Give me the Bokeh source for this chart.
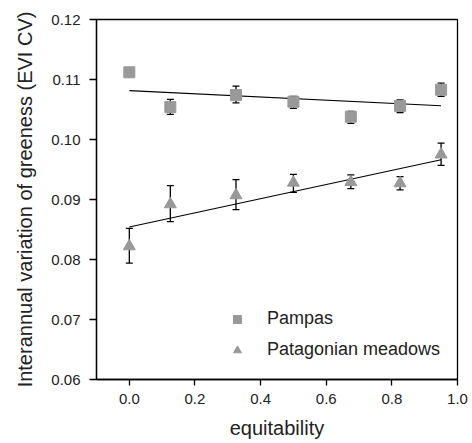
import numpy as np
from bokeh.plotting import figure
from bokeh.models import (Range1d, FixedTicker, PrintfTickFormatter, ColumnDataSource,
                          Whisker, TeeHead, Legend, LegendItem)
from bokeh.embed import file_html
from bokeh.resources import INLINE

# ---- data ----
equitability = [0.0, 0.125, 0.325, 0.5, 0.675, 0.825, 0.95]
pampas = [0.1112, 0.1054, 0.1074, 0.1063, 0.1038, 0.1056, 0.1083]
pampas_upper = [0.1112, 0.1067, 0.1089, 0.1072, 0.1047, 0.1066, 0.1094]
pampas_lower = [0.1112, 0.1042, 0.1061, 0.1052, 0.1027, 0.1045, 0.1072]
patagonia = [0.0822, 0.0892, 0.0907, 0.0928, 0.0929, 0.0927, 0.0975]
patagonia_upper = [0.0852, 0.0923, 0.0933, 0.0942, 0.0941, 0.0938, 0.0994]
patagonia_lower = [0.0794, 0.0863, 0.0883, 0.0912, 0.0918, 0.0916, 0.0957]
x_ticks = [0.0, 0.2, 0.4, 0.6, 0.8, 1.0]
y_ticks = [0.06, 0.07, 0.08, 0.09, 0.10, 0.11, 0.12]
series_names = ["Pampas", "Patagonian meadows"]

FONT = "Liberation Sans"
GRAY = "#999999"
TXT = "#222222"

p = figure(width=472, height=443, output_backend="svg", toolbar_location=None,
           x_range=Range1d(-0.1, 1.0), y_range=Range1d(0.06, 0.12),
           min_border_left=96, min_border_right=15, min_border_top=19, min_border_bottom=64)
p.background_fill_color = "white"
p.border_fill_color = "white"
p.outline_line_color = "black"
p.outline_line_width = 1.3
p.xgrid.visible = False
p.ygrid.visible = False

for ax, ticks, fmt in ((p.xaxis[0], x_ticks, "%.1f"), (p.yaxis[0], y_ticks, "%.2f")):
    ax.ticker = FixedTicker(ticks=ticks)
    ax.formatter = PrintfTickFormatter(format=fmt)
    ax.minor_tick_line_color = None
    ax.major_tick_in = 0
    ax.axis_line_width = 1.3
    ax.major_tick_line_width = 1.3
    ax.major_label_text_font = FONT
    ax.major_label_text_font_size = "15px"
    ax.major_label_text_color = TXT
    ax.axis_label_text_font = FONT
    ax.axis_label_text_font_size = "20px"
    ax.axis_label_text_font_style = "normal"
    ax.axis_label_text_color = TXT

p.xaxis.axis_label = "equitability"
p.yaxis.axis_label = "Interannual variation of greeness (EVI CV)"
p.xaxis.major_tick_out = 6
p.yaxis.major_tick_out = 7
p.xaxis.major_label_standoff = 8
p.yaxis.major_label_standoff = 9
p.xaxis.axis_label_standoff = 10
p.yaxis.axis_label_standoff = 12

# regression lines computed from the data
xfit = np.array([min(equitability), max(equitability)])
for ys in (pampas, patagonia):
    b, a = np.polyfit(equitability, ys, 1)
    p.line(xfit, a + b * xfit, line_color="black", line_width=1.2)

src_p = ColumnDataSource(dict(x=equitability, y=pampas, up=pampas_upper, lo=pampas_lower))
src_g = ColumnDataSource(dict(x=equitability, y=patagonia, up=patagonia_upper, lo=patagonia_lower))

for src in (src_p, src_g):
    w = Whisker(base="x", upper="up", lower="lo", source=src,
                line_color="black", line_width=1.3,
                upper_head=TeeHead(size=7, line_width=1.3, line_color="black"),
                lower_head=TeeHead(size=7, line_width=1.3, line_color="black"))
    p.add_layout(w)

r1 = p.scatter("x", "y", source=src_p, marker="square", size=11,
               fill_color=GRAY, line_color=GRAY)
r2 = p.scatter("x", "y", source=src_g, marker="triangle", size=12,
               fill_color=GRAY, line_color=GRAY)

legend = Legend(items=[LegendItem(label=series_names[0], renderers=[r1]),
                       LegendItem(label=series_names[1], renderers=[r2])],
                location=(131, 19), padding=0, margin=0, spacing=10,
                glyph_width=20, glyph_height=20, label_height=20, label_standoff=20,
                border_line_color=None, background_fill_alpha=0,
                label_text_font=FONT, label_text_font_size="18px", label_text_color=TXT)
p.add_layout(legend)

open("out.html", "w").write(file_html(p, INLINE))
